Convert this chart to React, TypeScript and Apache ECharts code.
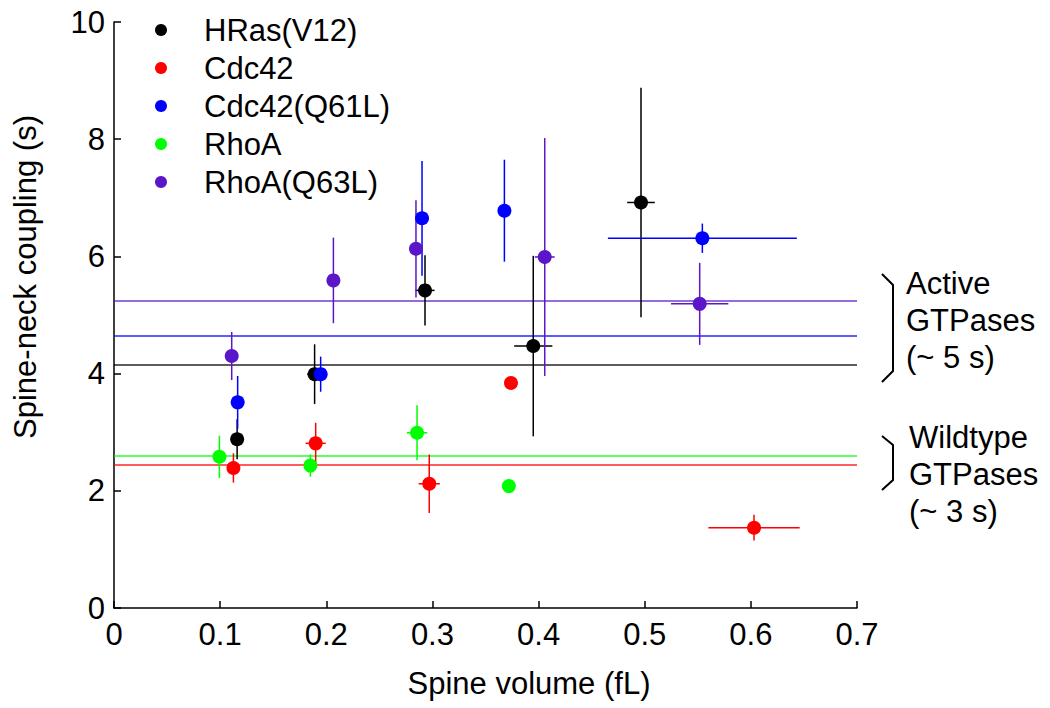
import React, { useEffect, useRef } from 'react';
import * as echarts from 'echarts';

// Each point: [spine volume (fL), spine-neck coupling (s), volume error, coupling error]
const seriesNames = ['HRas(V12)', 'Cdc42', 'Cdc42(Q61L)', 'RhoA', 'RhoA(Q63L)'];
const seriesColors = ['#000000', '#ff0000', '#0000ff', '#00ff00', '#5a16c8'];

const hrasV12 = [
  [0.116, 2.88, 0, 0.34],
  [0.189, 3.99, 0.007, 0.51],
  [0.293, 5.42, 0.009, 0.6],
  [0.395, 4.47, 0.018, 1.54],
  [0.4965, 6.92, 0.013, 1.96],
];
const cdc42 = [
  [0.1125, 2.39, 0.004, 0.25],
  [0.19, 2.81, 0.0095, 0.35],
  [0.297, 2.12, 0.01, 0.5],
  [0.374, 3.84, 0, 0],
  [0.603, 1.37, 0.043, 0.22],
];
const cdc42Q61L = [
  [0.1165, 3.51, 0, 0.45],
  [0.1947, 3.99, 0, 0.3],
  [0.2902, 6.65, 0, 0.98],
  [0.3678, 6.78, 0, 0.87],
  [0.5543, 6.31, 0.089, 0.25],
];
const rhoA = [
  [0.0993, 2.58, 0.005, 0.36],
  [0.185, 2.43, 0, 0.19],
  [0.2855, 2.99, 0.0096, 0.47],
  [0.372, 2.08, 0, 0],
];
const rhoAQ63L = [
  [0.1109, 4.3, 0, 0.41],
  [0.2067, 5.59, 0, 0.73],
  [0.2845, 6.13, 0, 0.83],
  [0.4058, 5.99, 0.0094, 2.03],
  [0.5518, 5.19, 0.027, 0.7],
];
const meanCoupling = [4.15, 2.45, 4.64, 2.6, 5.25];

const xAxisRange = [0, 0.7];
const xTickStep = 0.1;
const yAxisRange = [0, 10];
const yTickStep = 2;

const annotationActive = 'Active\nGTPases\n(~ 5 s)';
const annotationWildtype = 'Wildtype\nGTPases\n(~ 3 s)';
const xTitle = 'Spine volume (fL)';
const yTitle = 'Spine-neck coupling (s)';

const FONT = "'Liberation Sans', Arial, Helvetica, sans-serif";
const FS = 31;

export default function App() {
  const ref = useRef<HTMLDivElement>(null);

  useEffect(() => {
    if (!ref.current) return;
    const chart = echarts.init(ref.current, null, { renderer: 'svg' });
    const groups = [hrasV12, cdc42, cdc42Q61L, rhoA, rhoAQ63L];

    const errorSeries = groups.map((g, i) => ({
      type: 'custom',
      name: seriesNames[i] + ' err',
      data: g,
      encode: { x: 0, y: 1 },
      z: 2,
      silent: true,
      renderItem: (params: any, api: any) => {
        const x = api.value(0);
        const y = api.value(1);
        const xe = api.value(2);
        const ye = api.value(3);
        const children: any[] = [];
        const style = { stroke: seriesColors[i], lineWidth: 1.5 };
        if (ye > 0) {
          const a = api.coord([x, y - ye]);
          const b = api.coord([x, y + ye]);
          children.push({ type: 'line', shape: { x1: a[0], y1: a[1], x2: b[0], y2: b[1] }, style });
        }
        if (xe > 0) {
          const a = api.coord([x - xe, y]);
          const b = api.coord([x + xe, y]);
          children.push({ type: 'line', shape: { x1: a[0], y1: a[1], x2: b[0], y2: b[1] }, style });
        }
        return { type: 'group', children };
      },
    }));

    const pointSeries = groups.map((g, i) => ({
      type: 'scatter',
      name: seriesNames[i],
      data: g.map((p) => [p[0], p[1]]),
      symbol: 'circle',
      symbolSize: 14,
      z: 3,
      itemStyle: { color: seriesColors[i], opacity: 1 },
      markLine: {
        silent: true,
        symbol: ['none', 'none'],
        label: { show: false },
        lineStyle: { color: seriesColors[i], width: 1.5, type: 'solid', opacity: 0.85 },
        data: [{ yAxis: meanCoupling[i] }],
        z: 1,
      },
    }));

    chart.setOption({
      animation: false,
      backgroundColor: '#ffffff',
      textStyle: { fontFamily: FONT },
      grid: { left: 114, right: 193, top: 22, bottom: 100, containLabel: false },
      legend: {
        data: seriesNames,
        orient: 'vertical',
        left: 150,
        top: 6,
        itemWidth: 12,
        itemHeight: 12,
        itemGap: 0,
        icon: 'circle',
        selectedMode: false,
        textStyle: { fontSize: FS, fontFamily: FONT, color: '#000', lineHeight: 38, padding: [0, 0, 0, 32] },
      },
      xAxis: {
        type: 'value',
        min: xAxisRange[0],
        max: xAxisRange[1],
        interval: xTickStep,
        splitLine: { show: false },
        axisLine: { show: true, lineStyle: { color: '#000', width: 1.5 } },
        axisTick: { show: true, inside: true, length: 7, lineStyle: { color: '#000', width: 1.5 } },
        axisLabel: {
          fontSize: FS,
          fontFamily: FONT,
          color: '#000',
          margin: 11,
          formatter: (v: number) => (v === 0 ? '0' : v.toFixed(1)),
        },
      },
      yAxis: {
        type: 'value',
        min: yAxisRange[0],
        max: yAxisRange[1],
        interval: yTickStep,
        splitLine: { show: false },
        axisLine: { show: true, lineStyle: { color: '#000', width: 1.5 } },
        axisTick: { show: true, inside: true, length: 7, lineStyle: { color: '#000', width: 1.5 } },
        axisLabel: { fontSize: FS, fontFamily: FONT, color: '#000', margin: 9 },
      },
      graphic: [
        {
          type: 'text',
          x: 529,
          y: 683,
          style: { text: xTitle, fontSize: FS, fontFamily: FONT, fill: '#000', align: 'center', verticalAlign: 'middle' },
        },
        {
          type: 'text',
          x: 25,
          y: 277,
          rotation: Math.PI / 2,
          style: { text: yTitle, fontSize: FS, fontFamily: FONT, fill: '#000', align: 'center', verticalAlign: 'middle' },
        },
        {
          type: 'polyline',
          shape: { points: [[882, 274], [893, 285], [893, 371], [882, 382]] },
          style: { stroke: '#000', lineWidth: 2, fill: 'none' },
        },
        {
          type: 'polyline',
          shape: { points: [[882, 436], [893, 445], [893, 480], [882, 490]] },
          style: { stroke: '#000', lineWidth: 2, fill: 'none' },
        },
        {
          type: 'text',
          x: 906,
          y: 320,
          style: { text: annotationActive, fontSize: FS, fontFamily: FONT, fill: '#000', align: 'left', verticalAlign: 'middle', lineHeight: 37 },
        },
        {
          type: 'text',
          x: 909,
          y: 474,
          style: { text: annotationWildtype, fontSize: FS, fontFamily: FONT, fill: '#000', align: 'left', verticalAlign: 'middle', lineHeight: 37 },
        },
      ],
      series: [...errorSeries, ...pointSeries],
    });

    return () => chart.dispose();
  }, []);

  return (
    <div
      ref={ref}
      style={{ position: 'fixed', left: 0, top: 0, width: 1050, height: 708, background: '#fff' }}
    />
  );
}
